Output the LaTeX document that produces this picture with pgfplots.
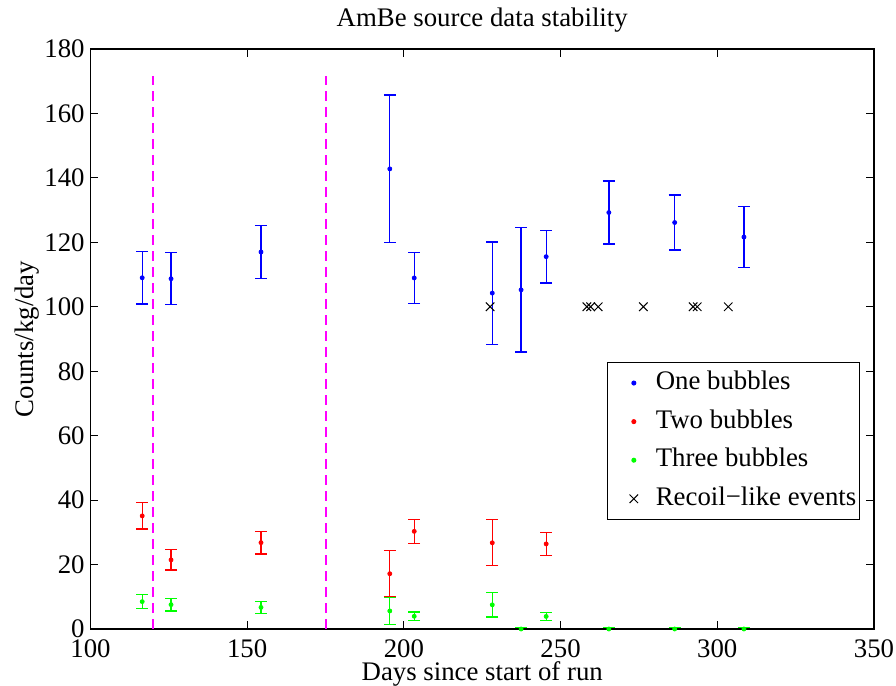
\documentclass[border=0pt]{standalone}
\usepackage{fontspec}
\setmainfont{Liberation Serif}
\usepackage{pgfplots}
\pgfplotsset{compat=1.18}
\definecolor{mblue}{RGB}{0,0,255}
\definecolor{mred}{RGB}{255,0,0}
\definecolor{mgreen}{RGB}{0,255,0}
\definecolor{mmag}{RGB}{255,0,255}
\newcommand{\ff}{\fontsize{13.4}{16}\selectfont}
\begin{document}
\begin{tikzpicture}
\begin{axis}[
  scale only axis,
  width=391.75pt, height=290pt,
  xmin=100, xmax=350, ymin=0, ymax=180,
  xtick={100,150,...,350}, ytick={0,20,...,180},
  tick align=inside, major tick length=4pt,
  axis line style={line width=0.6pt},
  every tick/.style={line width=0.6pt, black},
  /pgf/number format/assume math mode=true,
  /pgf/number format/1000 sep={},
  font=\ff,
  tick label style={font=\ff},
  xticklabel style={anchor=base, inner sep=0pt, yshift=-14.3pt},
  yticklabel style={anchor=east, inner sep=0pt, xshift=-2.75pt},
  title={AmBe source data stability},
  every axis title/.style={at={(axis description cs:0.5,1.038)}, anchor=base, inner sep=0pt, font=\ff},
  xlabel={Days since start of run},
  xlabel style={at={(axis description cs:0.5,-0.088)}, anchor=base, inner sep=0pt, font=\ff},
  ylabel={Counts/kg/day},
  ylabel style={at={(axis description cs:-0.081,0.5)}, anchor=center, inner sep=0pt, font=\ff},
  legend style={at={(axis description cs:0.9821,0.4603)}, anchor=north east,
    draw=black, line width=0.5pt, inner sep=0.6pt, font=\ff,
    nodes={inner ysep=2.9pt, inner xsep=1pt, text height=10pt, text depth=3.5pt},
    column sep=6pt, cells={anchor=west}},
  legend image code/.code={\path[draw=none] (-12.4pt,0pt) -- (4pt,0pt);
    \draw[#1, only marks] plot coordinates {(0pt,0pt)};},
  error bars/y dir=both, error bars/y explicit,
]
% One bubbles
\addplot[only marks, mark=*, mark size=1pt, color=mblue,
  error bars/error bar style={line width=0.65pt, mblue},
  error bars/error mark options={rotate=90, mark size=3pt, line width=0.65pt, mblue}]
coordinates {
(116.5,109.0) +- (0,8.1)
(125.7,108.7) +- (0,8.1)
(154.4,117.0) +- (0,8.2)
(195.5,142.8) +- (0,22.9)
(203.3,108.95) +- (0,7.85)
(228.2,104.25) +- (0,15.85)
(237.4,105.25) +- (0,19.25)
(245.4,115.55) +- (0,8.15)
(265.4,129.25) +- (0,9.75)
(286.4,126.15) +- (0,8.55)
(308.5,121.65) +- (0,9.55)
};
\addlegendentry{One bubbles}
% Two bubbles
\addplot[only marks, mark=*, mark size=1pt, color=mred,
  error bars/error bar style={line width=0.65pt, mred},
  error bars/error mark options={rotate=90, mark size=3pt, line width=0.65pt, mred}]
coordinates {
(116.5,35.1) +- (0,4.1)
(125.7,21.45) +- (0,3.15)
(154.4,26.8) +- (0,3.5)
(195.5,17.15) +- (0,7.15)
(203.3,30.3) +- (0,3.7)
(228.2,26.75) +- (0,7.15)
(245.4,26.4) +- (0,3.5)
};
\addlegendentry{Two bubbles}
% Three bubbles
\addplot[only marks, mark=*, mark size=1pt, color=mgreen,
  error bars/error bar style={line width=0.65pt, mgreen},
  error bars/error mark options={rotate=90, mark size=3pt, line width=0.65pt, mgreen}]
coordinates {
(116.5,8.5) +- (0,2.1)
(125.7,7.55) +- (0,1.95)
(154.4,6.7) +- (0,1.8)
(195.5,5.6) +- (0,4.1)
(203.3,3.95) +- (0,1.35)
(228.2,7.5) +- (0,3.8)
(237.4,0) +- (0,0.4)
(245.4,3.9) +- (0,1.3)
(265.4,0) +- (0,0.4)
(286.4,0) +- (0,0.4)
(308.5,0) +- (0,0.4)
};
\addlegendentry{Three bubbles}
% Recoil-like events
\addplot[only marks, mark=x, mark size=3pt, color=black, line width=0.5pt]
coordinates {
(227.5,100) (258.4,100) (259.6,100) (262.0,100) (276.4,100) (292.3,100) (293.6,100) (303.5,100)
};
\addlegendentry{Recoil−like events}
% dashed lines
\addplot[forget plot, color=mmag, draw=mmag, line width=1pt, dash pattern=on 5pt off 3pt] coordinates {(120,0) (120,171.5)};
\addplot[forget plot, color=mmag, draw=mmag, line width=1pt, dash pattern=on 5pt off 3pt] coordinates {(175,0) (175,171.5)};
\end{axis}
\pgfresetboundingbox
\path[use as bounding box] (-45.25pt,-28.5pt) rectangle (402.75pt,314.5pt);
\end{tikzpicture}
\end{document}
